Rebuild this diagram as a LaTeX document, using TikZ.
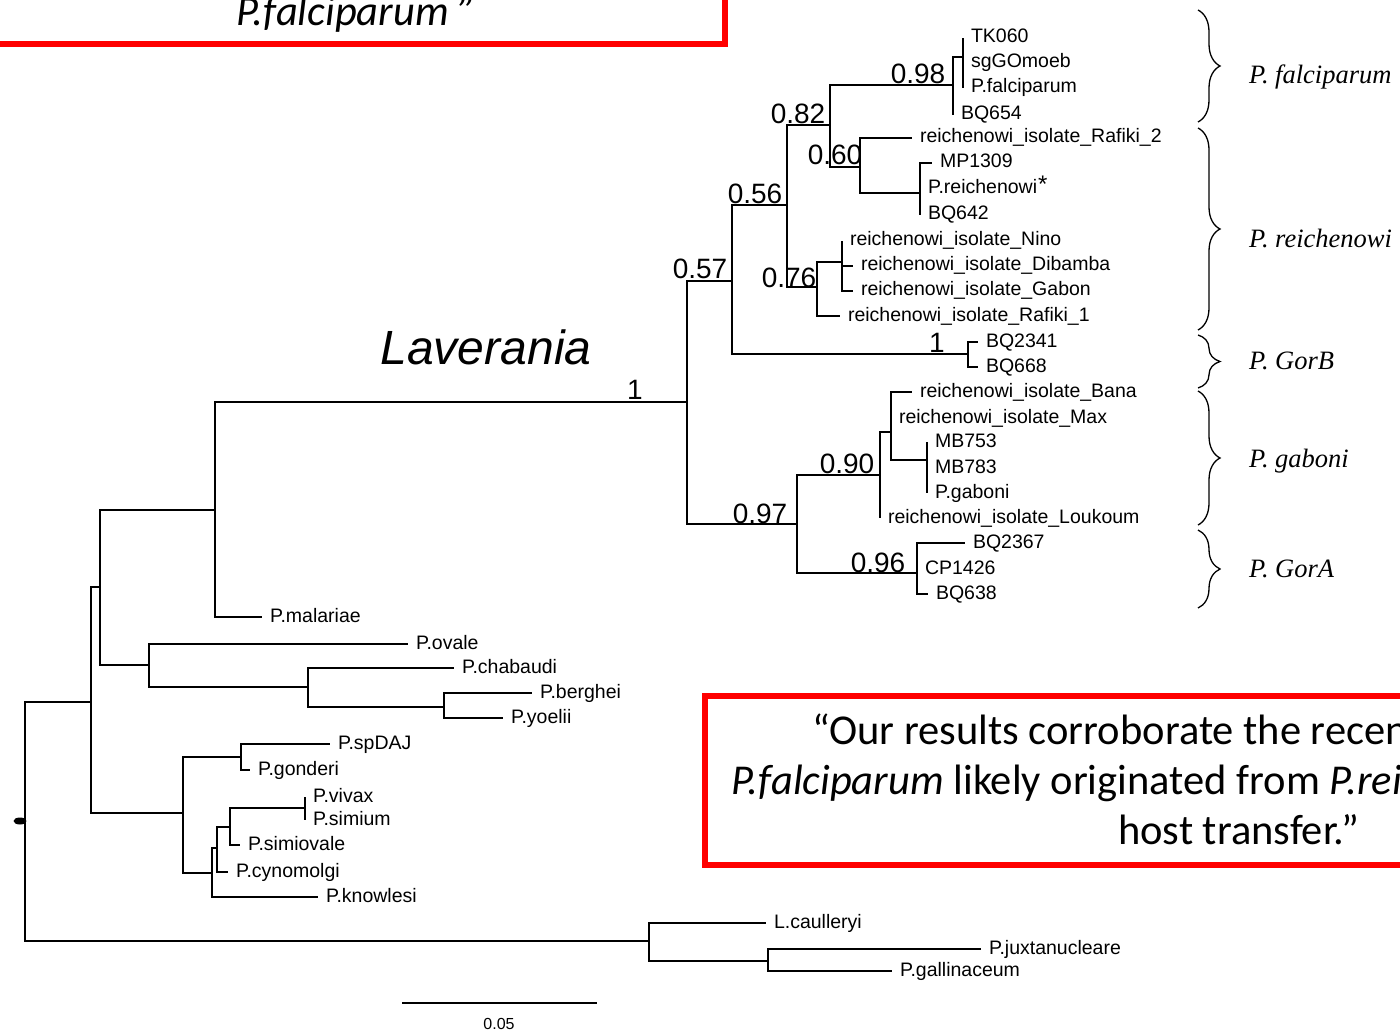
\documentclass[tikz,border=0pt]{standalone}
\usepackage{fontspec}
\setmainfont{Liberation Sans}
\newfontfamily\quotefont{Carlito}
\newfontfamily\cladefont{Liberation Serif}
\usetikzlibrary{decorations.pathreplacing}

\tikzset{
  br/.style={line width=1.8pt},
  leaf/.style={anchor=west,inner xsep=8pt,inner ysep=0pt,outer sep=0pt,
    text height=13pt,text depth=3pt,font=\fontsize{19.5}{21}\selectfont},
  bs/.style={anchor=south,inner sep=0pt,font=\fontsize{28}{30}\selectfont},
  clade/.style={anchor=west,inner sep=0pt,font=\cladefont\itshape\fontsize{26.5}{28}\selectfont},
  quote/.style={anchor=base west,inner sep=0pt,font=\quotefont\fontsize{42.5}{50}\selectfont},
  grp/.style={decorate,decoration={brace,amplitude=22pt},line width=1.3pt},
  redbox/.style={draw=red,line width=6.5pt},
}

\begin{document}
\begin{tikzpicture}[x=1pt,y=-1pt]
    \useasboundingbox (0,0) rectangle (1400,1032);
    \clip (0,0) rectangle (1400,1032);

    % quotes
    \draw[redbox] (-20,-20) rectangle (725,44);
    \node[quote] (q0) at (236,26) {\itshape P.falciparum ”};
    \draw[redbox] (705,696) rectangle (1500,865);
    \node[quote] (q1) at (812,744) {“Our results corroborate the recent};
    \node[quote] (q2) at (731,794) {\itshape P.falciparum\upshape{} likely originated from \itshape P.reichenowi};
    \node[quote] (q3) at (1118,844) {host transfer.”};

    % Laverania clade
    \coordinate (lav)  at (687,402);
    \coordinate (n57)  at (732,281);
    \coordinate (n56)  at (787,205);
    \coordinate (n82)  at (830,125);
    \coordinate (n98)  at (953,85);
    \coordinate (pfal) at (963,57);
    \coordinate (n60)  at (860,167);
    \coordinate (prei) at (920,193);
    \coordinate (n76)  at (817,287);
    \coordinate (nino) at (842,262);
    \coordinate (gorb) at (968,354);
    \coordinate (n97)  at (797,524);
    \coordinate (n90)  at (880,475);
    \coordinate (bana) at (891,432);
    \coordinate (mb)   at (927,460);
    \coordinate (n96)  at (917,573);

    \node[leaf] (tk060)  at (963,38)  {TK060};
    \node[leaf] (sggo)   at (963,63)  {sgGOmoeb};
    \node[leaf] (pfalc)  at (963,88)  {P.falciparum};
    \node[leaf] (bq654)  at (953,115) {BQ654};
    \node[leaf] (raf2)   at (912,138) {reichenowi\_isolate\_Rafiki\_2};
    \node[leaf] (mp1309) at (932,163) {MP1309};
    \node[leaf] (preich) at (920,189) {P.reichenowi};
    \node[leaf] (bq642)  at (920,215) {BQ642};
    \node[leaf] (ninol)  at (842,241) {reichenowi\_isolate\_Nino};
    \node[leaf] (dib)    at (853,266) {reichenowi\_isolate\_Dibamba};
    \node[leaf] (gab)    at (853,291) {reichenowi\_isolate\_Gabon};
    \node[leaf] (raf1)   at (840,316) {reichenowi\_isolate\_Rafiki\_1};
    \node[leaf] (bq2341) at (978,342) {BQ2341};
    \node[leaf] (bq668)  at (978,367) {BQ668};
    \node[leaf] (banal)  at (912,392) {reichenowi\_isolate\_Bana};
    \node[leaf] (max)    at (891,418) {reichenowi\_isolate\_Max};
    \node[leaf] (mb753)  at (927,442) {MB753};
    \node[leaf] (mb783)  at (927,468) {MB783};
    \node[leaf] (pgab)   at (927,493) {P.gaboni};
    \node[leaf] (louk)   at (880,518) {reichenowi\_isolate\_Loukoum};
    \node[leaf] (bq2367) at (965,543) {BQ2367};
    \node[leaf] (cp1426) at (917,569) {CP1426};
    \node[leaf] (bq638)  at (928,594) {BQ638};
    \node[leaf,inner xsep=0pt,font=\fontsize{24}{24}\selectfont] (star) at (1038,188) {*};

    \draw[br] (lav) |- (n57) (lav) |- (n97);
    \draw[br] (n57) |- (n56) (n57) |- (gorb);
    \draw[br] (n56) |- (n82) (n56) |- (n76);
    \draw[br] (n82) |- (n98) (n82) |- (n60);
    \draw[br] (n98) |- (pfal) (n98) |- (bq654);
    \draw[br] (pfal) |- (tk060) (pfal) |- (sggo) (pfal) |- (pfalc);
    \draw[br] (n60) |- (raf2) (n60) |- (prei);
    \draw[br] (prei) |- (mp1309) (prei) |- (preich) (prei) |- (bq642);
    \draw[br] (n76) |- (nino) (n76) |- (raf1);
    \draw[br] (nino) |- (ninol) (nino) |- (dib) (nino) |- (gab);
    \draw[br] (gorb) |- (bq2341) (gorb) |- (bq668);
    \draw[br] (n97) |- (n90) (n97) |- (n96);
    \draw[br] (n90) |- (bana) (n90) |- (louk);
    \draw[br] (bana) |- (banal) (bana) |- (max) (bana) |- (mb);
    \draw[br] (mb) |- (mb753) (mb) |- (mb783) (mb) |- (pgab);
    \draw[br] (n96) |- (bq2367) (n96) |- (cp1426) (n96) |- (bq638);

    \node[bs] (s98) at (918,84)  {0.98};
    \node[bs] (s82) at (798,124) {0.82};
    \node[bs] (s60) at (835,165) {0.60};
    \node[bs] (s56) at (755,204) {0.56};
    \node[bs] (s57) at (700,279) {0.57};
    \node[bs] (s76) at (789,288) {0.76};
    \node[bs] (s1b) at (937,353) {1};
    \node[bs] (s1l) at (635,400) {1};
    \node[bs] (s90) at (847,474) {0.90};
    \node[bs] (s97) at (760,524) {0.97};
    \node[bs] (s96) at (878,573) {0.96};

    \node[font=\itshape\fontsize{48}{50}\selectfont] (lavlab) at (486,347) {Laverania};

    % rest of the tree
    \coordinate (root) at (25,821);
    \coordinate (na)   at (91,702);
    \coordinate (nb)   at (100,587);
    \coordinate (nm)   at (215,510);
    \coordinate (no)   at (149,665);
    \coordinate (nc)   at (308,687);
    \coordinate (nbe)  at (444,707);
    \coordinate (nv)   at (183,813);
    \coordinate (nsp)  at (241,757);
    \coordinate (nd)   at (212,873);
    \coordinate (ne)   at (217,848);
    \coordinate (nf)   at (230,827);
    \coordinate (ng)   at (305,808);
    \coordinate (nout) at (649,941);
    \coordinate (nh)   at (768,961);

    \node[leaf] (mal)   at (262,617) {P.malariae};
    \node[leaf] (ova)   at (408,644) {P.ovale};
    \node[leaf] (cha)   at (454,668) {P.chabaudi};
    \node[leaf] (ber)   at (532,693) {P.berghei};
    \node[leaf] (yoe)   at (503,718) {P.yoelii};
    \node[leaf] (spd)   at (330,744) {P.spDAJ};
    \node[leaf] (gon)   at (250,770) {P.gonderi};
    \node[leaf] (viv)   at (305,797) {P.vivax};
    \node[leaf] (sim)   at (305,820) {P.simium};
    \node[leaf] (simo)  at (240,845) {P.simiovale};
    \node[leaf] (cyn)   at (228,872) {P.cynomolgi};
    \node[leaf] (kno)   at (318,897) {P.knowlesi};
    \node[leaf] (cau)   at (766,923) {L.caulleryi};
    \node[leaf] (jux)   at (981,949) {P.juxtanucleare};
    \node[leaf] (gal)   at (892,971) {P.gallinaceum};

    \draw[br] (root) |- (na) (root) |- (nout);
    \draw[br] (na) |- (nb) (na) |- (nv);
    \draw[br] (nb) |- (nm) (nb) |- (no);
    \draw[br] (nm) |- (lav) (nm) |- (mal);
    \draw[br] (no) |- (ova) (no) |- (nc);
    \draw[br] (nc) |- (cha) (nc) |- (nbe);
    \draw[br] (nbe) |- (ber) (nbe) |- (yoe);
    \draw[br] (nv) |- (nsp) (nv) |- (nd);
    \draw[br] (nsp) |- (spd) (nsp) |- (gon);
    \draw[br] (nd) |- (ne) (nd) |- (kno);
    \draw[br] (ne) |- (nf) (ne) |- (cyn);
    \draw[br] (nf) |- (ng) (nf) |- (simo);
    \draw[br] (ng) |- (viv) (ng) |- (sim);
    \draw[br] (nout) |- (cau) (nout) |- (nh);
    \draw[br] (nh) |- (jux) (nh) |- (gal);
    \fill (20,821) ellipse (6.5 and 3.5);

    % scale bar
    \coordinate (sb1) at (402,1003);
    \coordinate (sb2) at (597,1003);
    \draw[br] (sb1) -- (sb2);
    \node[font=\fontsize{16}{18}\selectfont] (sblab) at (499,1024) {0.05};

    % clade braces
    \draw[grp] (1198,10)  -- (1198,122);
    \draw[grp] (1198,128) -- (1198,330);
    \draw[grp] (1198,335) -- (1198,388);
    \draw[grp] (1198,391) -- (1198,525);
    \draw[grp] (1198,530) -- (1198,608);
    \node[clade] (cfal) at (1249,77)  {P. falciparum};
    \node[clade] (crei) at (1249,238) {P. reichenowi};
    \node[clade] (cgb)  at (1249,361) {P. GorB};
    \node[clade] (cgab) at (1249,461) {P. gaboni};
    \node[clade] (cga)  at (1249,569) {P. GorA};
\end{tikzpicture}
\end{document}
